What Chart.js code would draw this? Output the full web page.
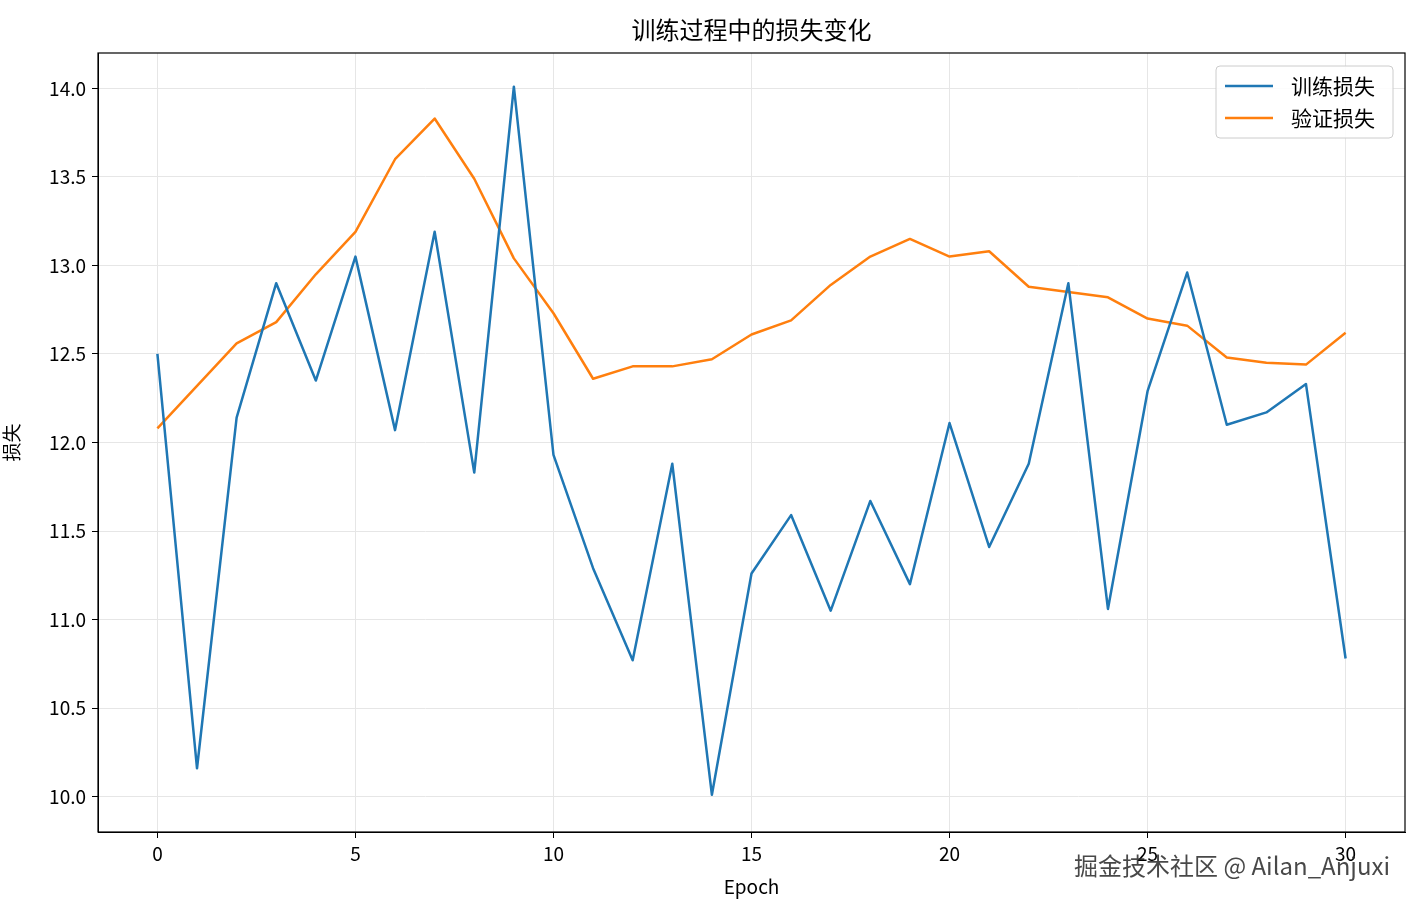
<!DOCTYPE html>
<html>
<head>
<meta charset="utf-8">
<script src="https://cdn.jsdelivr.net/npm/chart.js@4/dist/chart.umd.min.js"></script>
<style>
  html, body { margin: 0; padding: 0; background: #fff; }
  #wrap { width: 1413px; height: 906px; }
</style>
</head>
<body>
<div id="wrap"><canvas id="graph"></canvas></div>
<script>
// values
const epochs = [0,1,2,3,4,5,6,7,8,9,10,11,12,13,14,15,16,17,18,19,20,21,22,23,24,25,26,27,28,29,30];
const trainLoss = [12.50,10.16,12.14,12.90,12.35,13.05,12.07,13.19,11.83,14.01,11.93,11.29,10.77,11.88,10.01,11.26,11.59,11.05,11.67,11.20,12.11,11.41,11.88,12.90,11.06,12.29,12.96,12.10,12.17,12.33,10.78];
const valLoss = [12.08,12.32,12.56,12.68,12.95,13.19,13.60,13.83,13.49,13.04,12.73,12.36,12.43,12.43,12.47,12.61,12.69,12.89,13.05,13.15,13.05,13.08,12.88,12.85,12.82,12.70,12.66,12.48,12.45,12.44,12.62];
const yTicks = [10.0,10.5,11.0,11.5,12.0,12.5,13.0,13.5,14.0];
const xTicks = [0,5,10,15,20,25,30];

const FONT = '"Noto Sans CJK SC", "DejaVu Sans", sans-serif';
const BLUE = '#1f77b4', ORANGE = '#ff7f0e';

// title, frame, legend, watermark
const decor = {
  id: 'decor',
  afterDraw(chart) {
    const c = chart.ctx, a = chart.chartArea;
    c.save();
    c.strokeStyle = '#000'; c.lineWidth = 1.2;
    c.strokeRect(a.left, a.top, a.right - a.left, a.bottom - a.top);
    c.fillStyle = '#000';
    c.font = '24px ' + FONT;
    c.textAlign = 'center'; c.textBaseline = 'middle';
    c.fillText('训练过程中的损失变化', (a.left + a.right) / 2, 30);
    // legend box
    const lx = 1216, ly = 66, lw = 177, lh = 72;
    c.fillStyle = 'rgba(255,255,255,0.85)';
    c.strokeStyle = '#ccc'; c.lineWidth = 1;
    c.beginPath(); c.roundRect(lx, ly, lw, lh, 4); c.fill(); c.stroke();
    [['训练损失', BLUE, 86], ['验证损失', ORANGE, 118]].forEach(([t, col, yy]) => {
      c.strokeStyle = col; c.lineWidth = 2.5;
      c.beginPath(); c.moveTo(1225, yy); c.lineTo(1273, yy); c.stroke();
      c.fillStyle = '#000'; c.font = '21px ' + FONT; c.textAlign = 'left';
      c.fillText(t, 1291, yy);
    });
    c.fillStyle = 'rgba(40,40,40,0.85)';
    c.font = '24px ' + FONT; c.textAlign = 'right';
    c.fillText('掘金技术社区 @ Ailan_Anjuxi', 1390, 866);
    c.restore();
  }
};

new Chart(document.getElementById('graph').getContext('2d'), {
  type: 'line',
  data: {
    datasets: [
      { label: '训练损失', data: epochs.map((e, i) => ({ x: e, y: trainLoss[i] })),
        borderColor: BLUE, borderWidth: 2.5, borderJoinStyle: 'round', pointRadius: 0, tension: 0 },
      { label: '验证损失', data: epochs.map((e, i) => ({ x: e, y: valLoss[i] })),
        borderColor: ORANGE, borderWidth: 2.5, borderJoinStyle: 'round', pointRadius: 0, tension: 0 }
    ]
  },
  options: {
    responsive: true,
    maintainAspectRatio: false,
    animation: false,
    layout: { padding: { top: 53, right: 8, left: 0, bottom: 4 } },
    plugins: { legend: { display: false }, tooltip: { enabled: false } },
    scales: {
      x: {
        type: 'linear', min: -1.5, max: 31.5,
        afterBuildTicks: s => { s.ticks = xTicks.map(v => ({ value: v })); },
        afterFit: s => { s.height = 70; },
        grid: { color: '#e6e6e6', tickColor: '#000', tickLength: 6 },
        border: { color: '#000' },
        ticks: { color: '#000', font: { size: 19, family: FONT }, padding: 4 },
        title: { display: true, text: 'Epoch', color: '#000', font: { size: 19, family: FONT }, padding: { top: 0 } }
      },
      y: {
        min: 9.8, max: 14.2,
        afterBuildTicks: s => { s.ticks = yTicks.map(v => ({ value: v })); },
        afterFit: s => { s.width = 98; },
        grid: { color: '#e6e6e6', tickColor: '#000', tickLength: 6 },
        border: { color: '#000' },
        ticks: { color: '#000', font: { size: 19, family: FONT }, padding: 6,
                 callback: v => v.toFixed(1) },
        title: { display: true, text: '损失', color: '#000', font: { size: 19, family: FONT }, padding: 0 }
      }
    }
  },
  plugins: [decor]
});
</script>
</body>
</html>
